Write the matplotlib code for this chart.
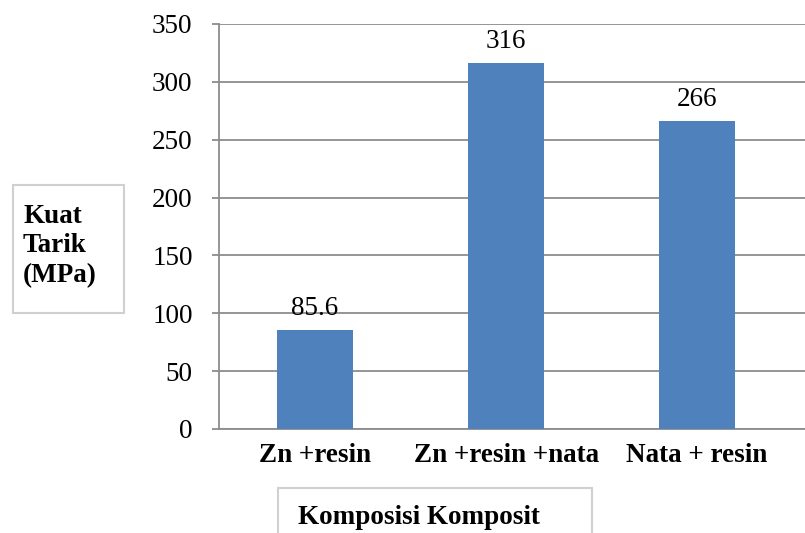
import matplotlib.pyplot as plt
from matplotlib.patches import Rectangle

categories = ['Zn +resin', 'Zn +resin +nata', 'Nata + resin']
values = [85.6, 316, 266]
labels = ['85.6', '316', '266']
yticks = [0, 50, 100, 150, 200, 250, 300, 350]

plt.rcParams['font.family'] = ['Liberation Serif', 'DejaVu Serif']

W, H = 805, 533
fig = plt.figure(figsize=(W / 100, H / 100), dpi=100)
# axes: left edge at x=219px, zero line at y=429px, top gridline at y=24px
ax = fig.add_axes([219 / W, (H - 429) / H, (W - 219) / W, 405 / H])

x = range(len(categories))
bars = ax.bar(x, values, width=0.4, color='#4F81BD', zorder=3)
for b, t in zip(bars, labels):
    ax.text(b.get_x() + b.get_width() / 2, b.get_height() + 8, t,
            ha='center', va='bottom', fontsize=19.5)

ax.set_xlim(-0.503, 2.565)
ax.set_ylim(0, 350)
ax.set_yticks(yticks)
ax.yaxis.grid(True, color='#8c8c8c', linewidth=1.3, zorder=0)
ax.set_xticks(list(x))
ax.set_xticklabels(categories, fontsize=19.5, fontweight='bold')
ax.tick_params(axis='x', length=0, pad=10)
ax.tick_params(axis='y', length=5, width=1.3, color='#8c8c8c', labelsize=19.5, pad=14)
for s in ['top', 'right']:
    ax.spines[s].set_visible(False)
for s in ['left', 'bottom']:
    ax.spines[s].set_color('#8c8c8c')
    ax.spines[s].set_linewidth(1.3)

# y-axis title box
fig.add_artist(Rectangle((13 / W, (H - 313) / H), 111 / W, 128 / H, transform=fig.transFigure,
                         facecolor='white', edgecolor='#d0d0d0', linewidth=1.5))
fig.text(23 / W, (H - 246) / H, 'Kuat\nTarik\n(MPa)', fontsize=19.5, fontweight='bold',
         ha='left', va='center', linespacing=1.22)

# x-axis title box
fig.add_artist(Rectangle((278 / W, -10 / H), 314 / W, (H - 488 + 10) / H, transform=fig.transFigure,
                         facecolor='white', edgecolor='#d0d0d0', linewidth=1.5))
fig.text(298 / W, (H - 518) / H, 'Komposisi Komposit', fontsize=19.5, fontweight='bold',
         ha='left', va='center')

fig.savefig('out.png', dpi=100)
